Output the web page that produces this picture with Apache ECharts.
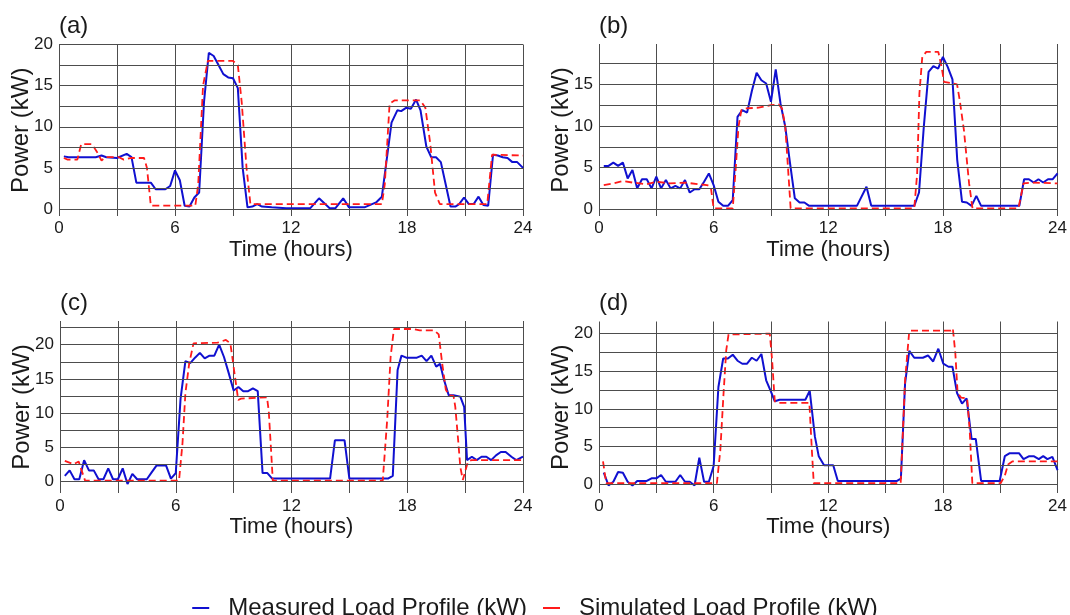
<!DOCTYPE html>
<html>
<head>
<meta charset="utf-8">
<script src="https://cdn.jsdelivr.net/npm/echarts@6/dist/echarts.min.js"></script>
<style>
  html, body { margin: 0; padding: 0; background: #fff; }
  #chart { width: 1070px; height: 615px; }
</style>
</head>
<body>
<div id="chart"></div>
<script>
// [hour, kW] pairs
const measA = [[0.25,6.4],[0.5,6.3],[1.9,6.3],[2.2,6.5],[2.45,6.3],[3.0,6.2],[3.5,6.7],[3.75,6.3],[4.0,3.2],[4.75,3.2],[5.0,2.4],[5.5,2.4],[5.75,2.8],[6.0,4.7],[6.25,3.5],[6.5,0.4],[6.75,0.3],[7.0,1.4],[7.25,2.0],[7.5,13.0],[7.75,19.0],[8.0,18.6],[8.25,17.5],[8.5,16.4],[8.75,16.0],[9.0,15.9],[9.25,14.7],[9.5,5.0],[9.75,0.2],[10.0,0.3],[10.25,0.6],[10.5,0.3],[11.0,0.2],[11.75,0.1],[13.0,0.1],[13.45,1.3],[14.0,0.1],[14.3,0.1],[14.7,1.3],[15.0,0.2],[15.8,0.2],[16.1,0.5],[16.4,0.8],[16.7,1.5],[17.2,10.5],[17.5,12.0],[17.7,11.9],[17.95,12.3],[18.2,12.2],[18.47,13.3],[18.7,12.0],[19.0,7.6],[19.25,6.3],[19.5,6.3],[19.75,5.7],[20.0,3.0],[20.25,0.3],[20.5,0.3],[20.7,0.6],[20.95,1.4],[21.2,0.6],[21.45,0.6],[21.7,1.5],[21.95,0.5],[22.2,0.4],[22.45,6.6],[22.7,6.5],[22.95,6.3],[23.2,6.2],[23.45,5.7],[23.7,5.7],[24.0,5.0]]
const simA = [[0.25,6.2],[0.45,6.0],[0.95,6.0],[1.15,7.9],[1.7,7.9],[1.95,7.0],[2.2,5.9],[2.4,6.3],[3.1,6.3],[3.35,6.0],[3.7,6.2],[4.4,6.2],[4.55,5.0],[4.75,0.4],[7.05,0.4],[7.2,3.0],[7.45,15.0],[7.7,18.0],[9.0,18.0],[9.25,17.5],[9.45,13.0],[9.7,5.0],[9.9,0.6],[16.7,0.6],[16.85,3.0],[17.1,12.8],[17.35,13.2],[18.7,13.2],[18.95,12.3],[19.2,8.0],[19.45,2.0],[19.7,0.6],[22.15,0.6],[22.4,6.6],[24.0,6.5]]

const measB = [[0.25,5.2],[0.5,5.2],[0.75,5.6],[1.0,5.2],[1.25,5.6],[1.5,3.7],[1.75,4.7],[2.0,2.5],[2.25,3.6],[2.5,3.6],[2.75,2.5],[3.0,3.9],[3.25,2.5],[3.5,3.5],[3.75,2.5],[4.0,2.8],[4.25,2.5],[4.5,3.5],[4.75,2.0],[5.0,2.4],[5.25,2.4],[5.5,3.3],[5.75,4.3],[6.0,2.9],[6.25,0.9],[6.5,0.4],[6.75,0.4],[7.0,1.1],[7.25,11.1],[7.5,11.9],[7.75,11.6],[8.0,14.2],[8.25,16.4],[8.5,15.5],[8.75,15.1],[9.0,12.9],[9.25,16.8],[9.5,12.7],[9.75,9.9],[10.0,5.5],[10.25,1.3],[10.5,0.8],[10.75,0.8],[11.0,0.4],[13.5,0.4],[14.0,2.7],[14.25,0.4],[16.5,0.4],[16.75,2.0],[17.0,9.9],[17.25,16.5],[17.5,17.2],[17.75,16.9],[18.0,18.3],[18.25,17.1],[18.5,15.6],[18.75,5.9],[19.0,0.9],[19.25,0.8],[19.5,0.4],[19.75,1.6],[20.0,0.4],[22.0,0.4],[22.25,3.6],[22.5,3.6],[22.75,3.2],[23.0,3.6],[23.25,3.2],[23.5,3.6],[23.75,3.6],[24.0,4.3]]
const simB = [[0.25,2.9],[0.75,3.1],[1.25,3.4],[1.75,3.2],[2.5,3.0],[3.0,3.3],[3.7,3.1],[4.5,3.2],[5.2,3.0],[5.65,2.9],[5.85,2.7],[6.0,0.1],[7.0,0.1],[7.15,4.7],[7.3,9.9],[7.45,11.9],[7.65,12.1],[8.35,12.2],[9.0,12.5],[9.4,12.6],[9.58,12.1],[9.75,9.9],[9.9,4.7],[10.03,0.1],[16.5,0.1],[16.65,4.2],[16.77,13.9],[16.92,18.3],[17.13,18.9],[17.76,18.9],[17.93,17.1],[18.06,15.3],[18.74,15.0],[18.88,13.1],[19.1,9.5],[19.37,3.1],[19.55,0.1],[21.95,0.1],[22.22,3.1],[22.66,3.2],[24.0,3.1]]

const measC = [[0.25,0.8],[0.5,1.6],[0.75,0.3],[1.0,0.3],[1.25,3.1],[1.5,1.6],[1.75,1.6],[2.0,0.3],[2.25,0.3],[2.5,1.9],[2.75,0.3],[3.0,0.3],[3.25,1.9],[3.5,-0.4],[3.75,1.1],[4.0,0.3],[4.5,0.3],[4.75,1.3],[5.0,2.3],[5.5,2.3],[5.75,0.4],[6.0,1.2],[6.25,12.1],[6.5,17.6],[6.75,17.3],[7.0,18.1],[7.25,18.8],[7.5,18.0],[7.75,18.4],[8.0,18.4],[8.25,20.0],[8.5,18.2],[8.75,15.8],[9.0,13.3],[9.25,13.8],[9.5,13.2],[9.75,13.2],[10.0,13.6],[10.25,13.2],[10.5,1.2],[10.75,1.2],[11.0,0.4],[14.0,0.4],[14.25,6.0],[14.75,6.0],[15.0,0.4],[17.0,0.4],[17.25,0.8],[17.5,16.3],[17.7,18.4],[17.95,18.1],[18.5,18.1],[18.75,18.4],[19.0,17.6],[19.25,18.4],[19.5,16.8],[19.7,17.2],[19.9,14.9],[20.15,12.6],[20.4,12.6],[20.5,12.8],[20.75,12.4],[20.95,10.9],[21.1,3.1],[21.35,3.6],[21.6,3.1],[21.85,3.6],[22.1,3.6],[22.35,3.1],[22.6,3.8],[22.85,4.3],[23.1,4.3],[23.4,3.6],[23.65,3.1],[24.0,3.6]]
const simC = [[0.25,3.0],[0.7,2.5],[0.97,2.9],[1.06,2.1],[1.3,0.1],[6.17,0.1],[6.35,5.6],[6.5,12.9],[6.7,17.3],[6.92,20.2],[8.17,20.3],[8.6,20.7],[8.83,20.2],[8.95,17.8],[9.07,15.3],[9.24,11.9],[9.38,12.1],[10.73,12.3],[10.82,10.3],[10.94,4.6],[11.03,0.1],[16.73,0.1],[16.96,9.0],[17.14,18.3],[17.31,22.3],[18.3,22.3],[18.65,22.1],[19.4,22.1],[19.63,21.5],[19.81,17.3],[20.0,13.4],[20.17,12.6],[20.4,12.5],[20.49,10.9],[20.61,7.0],[20.75,2.1],[20.88,0.2],[21.0,1.4],[21.14,2.8],[21.32,3.1],[24.0,3.1]]

const measD = [[0.25,1.5],[0.5,-0.2],[0.75,0.3],[1.0,1.6],[1.25,1.5],[1.5,0.3],[1.75,-0.2],[2.0,0.4],[2.5,0.4],[2.75,0.75],[3.0,0.75],[3.25,1.2],[3.5,0.3],[4.0,0.3],[4.25,1.2],[4.5,0.3],[4.75,0.3],[5.0,-0.2],[5.25,3.5],[5.5,0.3],[5.75,0.3],[6.0,2.4],[6.25,12.9],[6.5,16.7],[6.75,16.7],[7.0,17.2],[7.25,16.4],[7.5,16.0],[7.75,16.0],[8.0,16.8],[8.25,16.4],[8.5,17.3],[8.75,13.8],[9.0,12.3],[9.2,11.0],[9.45,11.2],[10.8,11.2],[11.03,12.4],[11.3,6.3],[11.5,3.7],[11.78,2.5],[12.26,2.5],[12.5,0.4],[15.6,0.4],[15.8,0.7],[16.02,13.4],[16.24,17.7],[16.5,16.8],[16.95,16.8],[17.22,17.1],[17.49,16.3],[17.76,18.0],[18.02,16.0],[18.29,15.6],[18.5,15.6],[18.74,12.1],[19.0,10.7],[19.24,11.4],[19.5,6.0],[19.72,6.0],[20.0,0.4],[20.97,0.4],[21.24,3.7],[21.5,4.1],[21.98,4.1],[22.22,3.3],[22.52,3.7],[22.75,3.7],[23.02,3.3],[23.25,3.7],[23.47,3.3],[23.73,3.6],[24.0,1.85]]
const simD = [[0.21,3.0],[0.38,0.1],[6.17,0.1],[6.35,4.5],[6.52,12.1],[6.66,17.8],[6.78,19.9],[8.94,20.0],[9.06,16.5],[9.2,11.0],[9.37,10.8],[11.01,10.8],[11.15,4.1],[11.24,0.1],[15.79,0.1],[16.02,13.8],[16.24,20.4],[18.42,20.4],[18.52,20.7],[18.65,17.4],[18.77,12.1],[18.95,11.5],[19.27,11.4],[19.4,7.2],[19.54,0.1],[21.02,0.1],[21.24,1.1],[21.41,2.6],[21.63,3.0],[24.0,3.0]]

const panelLabels = ['(a)', '(b)', '(c)', '(d)']
const xLabels = [0, 6, 12, 18, 24]
const yLabelsA = [0, 5, 10, 15, 20]
const yLabelsB = [0, 5, 10, 15]
const yLabelsC = [0, 5, 10, 15, 20]
const yLabelsD = [0, 5, 10, 15, 20]
const hLinesA = [0, 2.5, 5, 7.5, 10, 12.5, 15, 17.5, 20]
const hLinesB = [0, 2.5, 5, 7.5, 10, 12.5, 15, 17.5]
const hLinesC = [0, 2.5, 5, 7.5, 10, 12.5, 15, 17.5, 20, 22.5]
const hLinesD = [0, 2.5, 5, 7.5, 10, 12.5, 15, 17.5, 20]

const MEAS = 'Measured Load Profile (kW)'
const SIM = 'Simulated Load Profile (kW)'
const FONT = 'Liberation Sans, Arial, sans-serif'
const GRID_COLOR = '#4d4d4d'
const TEXT = '#1a1a1a'

const panels = [
  { meas: measA, sim: simA, yl: yLabelsA, hl: hLinesA, min: -0.85, max: 20, grid: { left: 59, top: 44.5, width: 464, height: 171.5 }, labelMargin: 4 },
  { meas: measB, sim: simB, yl: yLabelsB, hl: hLinesB, min: -0.82, max: 19.85, grid: { left: 599, top: 44, width: 463.5, height: 172 }, labelMargin: 4 },
  { meas: measC, sim: simC, yl: yLabelsC, hl: hLinesC, min: -1.71, max: 23.47, grid: { left: 60, top: 321, width: 463, height: 172 }, labelMargin: 5 },
  { meas: measD, sim: simD, yl: yLabelsD, hl: hLinesD, min: -1.2, max: 21.62, grid: { left: 599, top: 321.5, width: 463.5, height: 171.5 }, labelMargin: 5 },
]

var chart = echarts.init(document.getElementById('chart'))

var option = {
  animation: false,
  backgroundColor: '#fff',
  textStyle: { fontFamily: FONT },
  title: panels.map(function (p, i) {
    return {
      text: panelLabels[i],
      left: p.grid.left,
      top: p.grid.top < 100 ? 14 : 291,
      padding: 0,
      textStyle: { fontSize: 24, fontWeight: 'normal', color: TEXT, fontFamily: FONT },
    }
  }),
  legend: {
    data: [MEAS, SIM],
    left: 'center',
    top: 591,
    icon: 'rect',
    itemWidth: 17,
    itemHeight: 2,
    itemGap: 16,
    textStyle: { fontSize: 24, color: TEXT, fontFamily: FONT, padding: [0, 0, 0, 14] },
  },
  grid: panels.map(function (p) { return p.grid }),
  xAxis: panels.map(function (p, i) {
    return {
      type: 'value',
      gridIndex: i,
      min: 0,
      max: 24,
      interval: 3,
      name: 'Time (hours)',
      nameLocation: 'middle',
      nameGap: 23,
      nameMoveOverlap: false,
      nameTextStyle: { fontSize: 22, color: TEXT, fontFamily: FONT, verticalAlign: 'top' },
      axisLine: { show: false },
      axisTick: { show: false },
      axisLabel: {
        fontSize: 17,
        color: TEXT,
        margin: p.labelMargin,
        formatter: function (v) { return xLabels.indexOf(v) >= 0 ? String(v) : '' },
      },
      splitLine: { show: true, lineStyle: { color: GRID_COLOR, width: 1 } },
    }
  }),
  yAxis: panels.map(function (p, i) {
    return {
      type: 'value',
      gridIndex: i,
      min: p.min,
      max: p.max,
      name: 'Power (kW)',
      nameLocation: 'middle',
      nameGap: 26,
      nameMoveOverlap: false,
      nameTextStyle: { fontSize: 24, color: TEXT, fontFamily: FONT },
      axisLine: { show: false },
      axisTick: { show: false },
      splitLine: { show: false },
      axisLabel: {
        fontSize: 17,
        color: TEXT,
        margin: 6,
        customValues: p.yl,
      },
    }
  }),
  series: [],
}

panels.forEach(function (p, i) {
  // horizontal grid lines at the 2.5 kW steps
  option.series.push({
    type: 'line',
    xAxisIndex: i,
    yAxisIndex: i,
    data: [],
    silent: true,
    z: 1,
    markLine: {
      silent: true,
      symbol: ['none', 'none'],
      label: { show: false },
      emphasis: { disabled: true },
      lineStyle: { color: GRID_COLOR, width: 1, type: 'solid' },
      data: p.hl.map(function (v) { return { yAxis: v } }),
    },
  })
  option.series.push({
    name: MEAS,
    type: 'line',
    xAxisIndex: i,
    yAxisIndex: i,
    data: p.meas,
    showSymbol: false,
    symbol: 'none',
    z: 3,
    itemStyle: { color: '#1010d0' },
    lineStyle: { color: '#1010d0', width: 2 },
  })
  option.series.push({
    name: SIM,
    type: 'line',
    xAxisIndex: i,
    yAxisIndex: i,
    data: p.sim,
    showSymbol: false,
    symbol: 'none',
    z: 4,
    itemStyle: { color: '#ff1a1a' },
    lineStyle: { color: '#ff1a1a', width: 1.8, type: [7, 4] },
  })
})

chart.setOption(option)
</script>
</body>
</html>
